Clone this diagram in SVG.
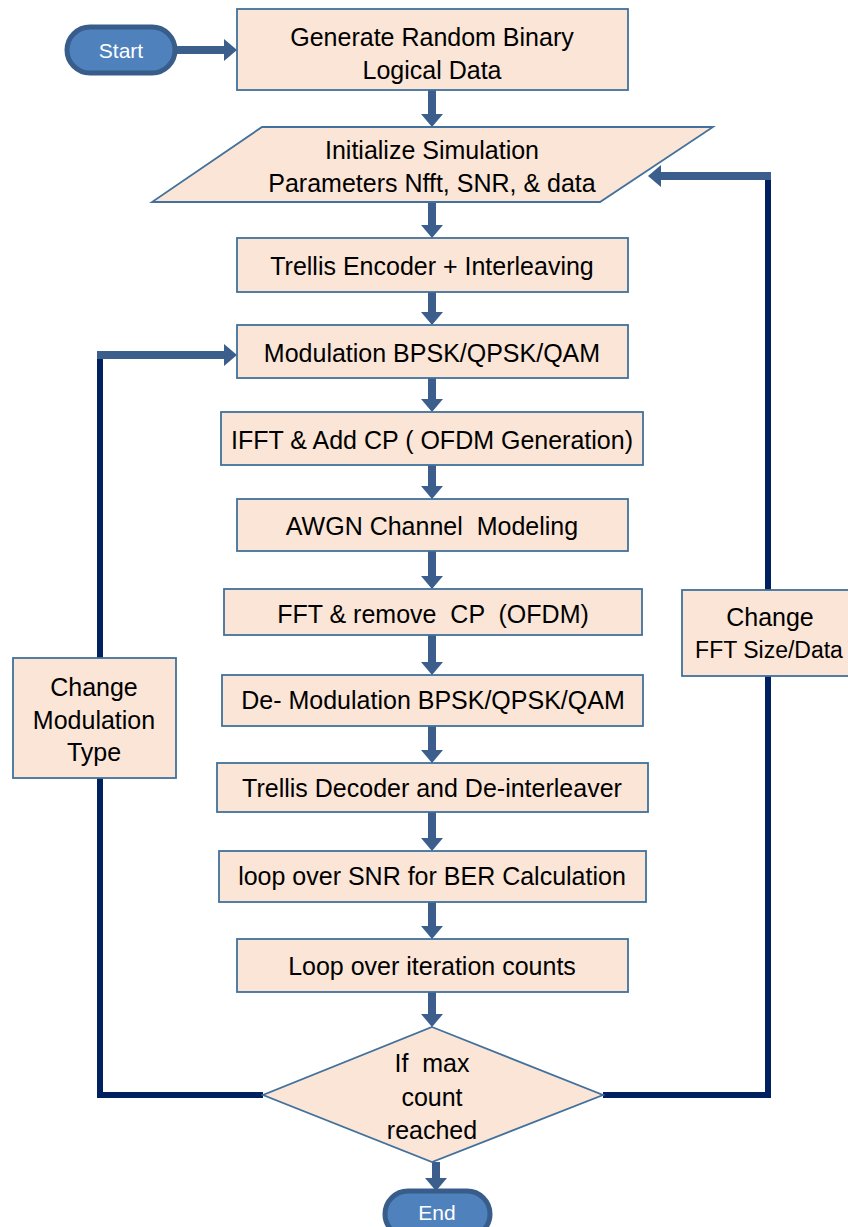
<svg xmlns="http://www.w3.org/2000/svg" width="848" height="1227" viewBox="0 0 848 1227">
<style>
.box{fill:#FBE5D6;stroke:#41719C;stroke-width:1.8}
.pill{fill:#4F81BD;stroke:#385D8A;stroke-width:5}
.t{font-family:"Liberation Sans",Arial,sans-serif;font-size:25px;fill:#000;text-anchor:middle;dominant-baseline:central}
.tw{font-family:"Liberation Sans",Arial,sans-serif;font-size:21px;fill:#fff;text-anchor:middle;dominant-baseline:central}
.arr{stroke:#3B5E8C;stroke-width:8;fill:none;marker-end:url(#ah)}
.navy{stroke:#002060;stroke-width:6;fill:none}
</style>
<defs>
<marker id="ah" markerUnits="userSpaceOnUse" markerWidth="13" markerHeight="22" viewBox="0 0 13 22" refX="0" refY="11" orient="auto">
<path d="M0,0 L13,11 L0,22 Z" fill="#3B5E8C"/>
</marker>
</defs>
<g id="connectors">
<line class="arr" x1="177" y1="50" x2="224" y2="50"/>
<line class="arr" x1="432" y1="90" x2="432" y2="114"/>
<line class="arr" x1="432" y1="202" x2="432" y2="225"/>
<line class="arr" x1="432" y1="292" x2="432" y2="312"/>
<line class="arr" x1="432" y1="378" x2="432" y2="399"/>
<line class="arr" x1="432" y1="465" x2="432" y2="486"/>
<line class="arr" x1="432" y1="551" x2="432" y2="576"/>
<line class="arr" x1="432" y1="635" x2="432" y2="662"/>
<line class="arr" x1="432" y1="726" x2="432" y2="750"/>
<line class="arr" x1="432" y1="812" x2="432" y2="838"/>
<line class="arr" x1="432" y1="902" x2="432" y2="926"/>
<line class="arr" x1="432" y1="992" x2="432" y2="1014"/>
<line class="arr" x1="436" y1="1162" x2="436" y2="1178"/>
<polyline class="navy" points="263,1095 100,1095 100,352"/>
<line class="arr" x1="97" y1="355" x2="224" y2="355"/>
<polyline class="navy" points="603,1095 768,1095 768,173"/>
<line class="arr" x1="771" y1="176" x2="661" y2="176"/>
</g>
<g id="start"><rect class="pill" x="67" y="27" width="108" height="46" rx="23"/><text class="tw" x="121" y="50">Start</text></g>
<g id="generate"><rect class="box" x="237" y="9" width="391" height="81"/><text class="t" x="432" y="37">Generate Random Binary</text><text class="t" x="432" y="70">Logical Data</text></g>
<g id="init"><polygon class="box" points="262,127 713,127 600,202 152,202"/><text class="t" x="432" y="150">Initialize Simulation</text><text class="t" x="432" y="183">Parameters Nfft, SNR, &amp; data</text></g>
<g id="encoder"><rect class="box" x="237" y="238" width="391" height="54"/><text class="t" x="432" y="266">Trellis Encoder + Interleaving</text></g>
<g id="modulation"><rect class="box" x="237" y="325" width="391" height="53"/><text class="t" x="432" y="353">Modulation BPSK/QPSK/QAM</text></g>
<g id="ifft"><rect class="box" x="221" y="412" width="422" height="53"/><text class="t" x="432" y="440">IFFT &amp; Add CP ( OFDM Generation)</text></g>
<g id="awgn"><rect class="box" x="237" y="499" width="391" height="52"/><text class="t" x="432" y="526" xml:space="preserve">AWGN Channel  Modeling</text></g>
<g id="fft"><rect class="box" x="224" y="589" width="418" height="46"/><text class="t" x="433" y="614" xml:space="preserve">FFT &amp; remove  CP  (OFDM)</text></g>
<g id="demod"><rect class="box" x="222" y="675" width="421" height="51"/><text class="t" x="433" y="700">De- Modulation BPSK/QPSK/QAM</text></g>
<g id="decoder"><rect class="box" x="217" y="763" width="431" height="49"/><text class="t" x="432" y="788">Trellis Decoder and De-interleaver</text></g>
<g id="snrloop"><rect class="box" x="219" y="851" width="427" height="51"/><text class="t" x="432" y="876">loop over SNR for BER Calculation</text></g>
<g id="iterloop"><rect class="box" x="237" y="939" width="391" height="53"/><text class="t" x="432" y="966">Loop over iteration counts</text></g>
<g id="decision"><polygon class="box" points="432,1027 603,1095 432,1162 263,1095"/><text class="t" x="432" y="1063" xml:space="preserve">If  max</text><text class="t" x="432" y="1097">count</text><text class="t" x="432" y="1130">reached</text></g>
<g id="end"><rect class="pill" x="385" y="1191" width="105" height="46" rx="23"/><text class="tw" x="437" y="1212">End</text></g>
<g id="changemod"><rect class="box" x="13" y="658" width="163" height="120"/><text class="t" x="94" y="687">Change</text><text class="t" x="94" y="720">Modulation</text><text class="t" x="94" y="752">Type</text></g>
<g id="changefft"><rect class="box" x="682" y="590" width="180" height="86"/><text class="t" x="770" y="617">Change</text><text class="t" x="769" y="650" style="font-size:23px">FFT Size/Data</text></g>
</svg>
